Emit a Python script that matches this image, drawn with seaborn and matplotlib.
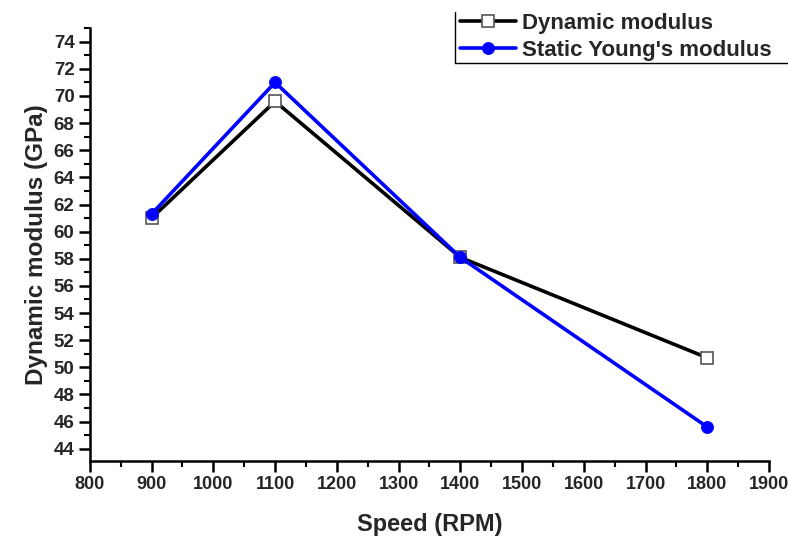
import matplotlib
matplotlib.use("Agg")
import matplotlib.pyplot as plt
import seaborn as sns
import pandas as pd
from matplotlib.ticker import MultipleLocator
from matplotlib.lines import Line2D

speed = [900, 1100, 1400, 1800]
dynamic_modulus = [61.0, 69.6, 58.1, 50.7]
static_youngs = [61.3, 71.0, 58.1, 45.6]

sns.set_theme(style="white")
plt.rcParams['font.family'] = ['Liberation Sans', 'DejaVu Sans']
plt.rcParams['font.weight'] = 'bold'

fig = plt.figure(figsize=(7.88, 5.41), dpi=100)
ax = fig.add_axes([0.114, 0.148, 0.862, 0.80])

df1 = pd.DataFrame({"Speed": speed, "Value": dynamic_modulus})
df2 = pd.DataFrame({"Speed": speed, "Value": static_youngs})

sns.lineplot(data=df1, x="Speed", y="Value", ax=ax, color="black", lw=2.6,
             marker="s", markersize=9, markerfacecolor="white",
             markeredgecolor="#555555", markeredgewidth=1.2,
             label="Dynamic modulus", zorder=3)
sns.lineplot(data=df2, x="Speed", y="Value", ax=ax, color="#0000ff", lw=2.6,
             marker="o", markersize=8.5, markerfacecolor="#0000ff",
             markeredgecolor="#0000ff", label="Static Young's modulus", zorder=4)

ax.set_xlim(800, 1900)
ax.set_ylim(43.1, 75)
ax.xaxis.set_major_locator(MultipleLocator(100))
ax.xaxis.set_minor_locator(MultipleLocator(50))
ax.set_yticks(list(range(44, 75, 2)))
ax.yaxis.set_minor_locator(MultipleLocator(1))

for s in ["top", "right"]:
    ax.spines[s].set_visible(False)
for s in ["left", "bottom"]:
    ax.spines[s].set_color("black")
    ax.spines[s].set_linewidth(1.8)

ax.tick_params(axis="both", which="major", direction="out", length=8, width=1.8,
               color="black", bottom=True, left=True, pad=3)
ax.tick_params(axis="y", which="major", labelsize=13.5)
ax.tick_params(axis="x", which="major", labelsize=13)
ax.tick_params(axis="both", which="minor", direction="out", length=4.5, width=1.5,
               color="black", bottom=True, left=True)
for lab in ax.get_xticklabels() + ax.get_yticklabels():
    lab.set_fontweight("bold")

ax.set_xlabel("Speed (RPM)", fontsize=17, fontweight="bold", labelpad=14)
ax.set_ylabel("Dynamic modulus (GPa)", fontsize=17.5, fontweight="bold", labelpad=4)

leg = ax.legend(loc="upper left", bbox_to_anchor=(458/788, 1 - 11/541),
                bbox_transform=fig.transFigure, frameon=False,
                prop={"size": 16, "weight": "bold"}, handlelength=2.5,
                borderpad=0.1, labelspacing=0.25, handletextpad=0.3,
                borderaxespad=0)
# Origin-style legend border: left and bottom edges only
x0 = 455 / 788
fig.add_artist(Line2D([x0, x0], [1 - 12/541, 1 - 63/541], color="black",
                      lw=1.0, transform=fig.transFigure))
fig.add_artist(Line2D([x0, 1.0], [1 - 63/541, 1 - 63/541], color="black",
                      lw=1.0, transform=fig.transFigure))

fig.savefig("out.png", dpi=100, facecolor="white")
